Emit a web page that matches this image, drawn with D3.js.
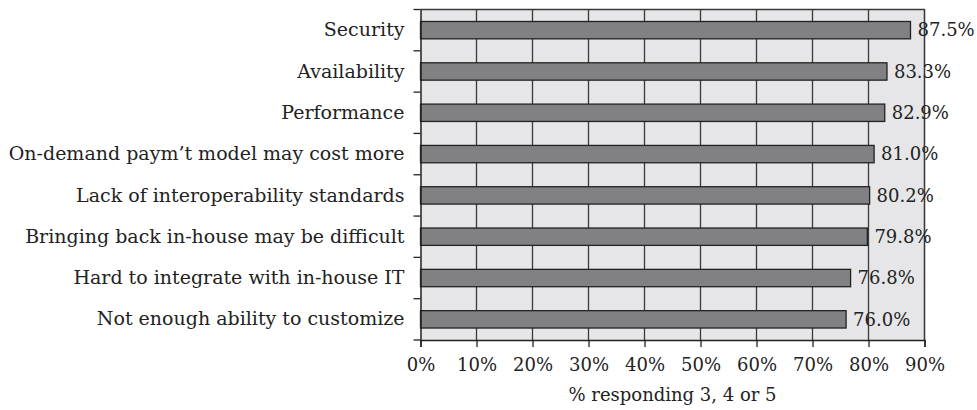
<!DOCTYPE html>
<html><head><meta charset="utf-8">
<script src="https://cdn.jsdelivr.net/npm/d3@7"></script>
<style>
body{margin:0;background:#fff;}
text{font-family:"DejaVu Serif",serif;fill:#222;}
</style></head>
<body><svg id="c" width="977" height="410"></svg>
<script>
const categories = ["Security","Availability","Performance","On-demand paym\u2019t model may cost more","Lack of interoperability standards","Bringing back in-house may be difficult","Hard to integrate with in-house IT","Not enough ability to customize"];
const values = [87.5,83.3,82.9,81.0,80.2,79.8,76.8,76.0];
const valueLabels = ["87.5%","83.3%","82.9%","81.0%","80.2%","79.8%","76.8%","76.0%"];
const xTicks = [0,10,20,30,40,50,60,70,80,90];
const xTitle = "% responding 3, 4 or 5";

const svg = d3.select("#c");
const m = {l:420.5, r:924.5, t:9.5, b:340};
const fs = 18;
const x = d3.scaleLinear().domain([0,90]).range([m.l,m.r]);
const y = d3.scaleBand().domain(categories).range([m.t,m.b]).paddingInner(0.58).paddingOuter(0.29);

svg.append("rect").attr("x",m.l).attr("y",m.t).attr("width",m.r-m.l).attr("height",m.b-m.t).attr("fill","#e6e6e8");
// gridlines
svg.append("g").selectAll("line").data(xTicks.slice(1)).join("line")
  .attr("x1",d=>x(d)).attr("x2",d=>x(d)).attr("y1",m.t).attr("y2",m.b)
  .attr("stroke","#3a3a3a").attr("stroke-width",1.3);
// bars
svg.append("g").selectAll("rect").data(values).join("rect")
  .attr("x",x(0)).attr("y",(d,i)=>y(categories[i]))
  .attr("width",d=>x(d)-x(0)).attr("height",y.bandwidth())
  .attr("fill","#818184").attr("stroke","#222").attr("stroke-width",1.3);
// border top/right
svg.append("path").attr("d",`M${m.l},${m.t}H${m.r}V${m.b}`).attr("fill","none").attr("stroke","#3a3a3a").attr("stroke-width",1.3);
// value labels
svg.append("g").selectAll("text").data(values).join("text")
  .attr("x",d=>x(d)+7).attr("y",(d,i)=>y(categories[i])+y.bandwidth()/2)
  .attr("dy","0.35em").attr("font-size",fs).text((d,i)=>valueLabels[i]);
// x axis
const xa = svg.append("g").attr("transform",`translate(0,${m.b})`)
  .call(d3.axisBottom(x).tickValues(xTicks).tickFormat(d=>d+"%").tickSize(7).tickPadding(11));
xa.selectAll("text").attr("font-size",fs).attr("font-family","DejaVu Serif");
xa.select(".domain").attr("stroke","#222").attr("stroke-width",1.5);
xa.selectAll(".tick line").attr("stroke","#222").attr("stroke-width",1.3);
// y axis
const ya = svg.append("g").attr("transform",`translate(${m.l},0)`)
  .call(d3.axisLeft(y).tickSize(0).tickPadding(16));
ya.selectAll("text").attr("font-size",19).attr("font-family","DejaVu Serif");
ya.select(".domain").attr("stroke","#222").attr("stroke-width",1.5);
// boundary ticks on y axis
const bounds = categories.map(c=>y(c)-y.step()*y.paddingInner()/2).concat([m.b]);
svg.append("g").selectAll("line").data(bounds).join("line")
  .attr("x1",m.l-7).attr("x2",m.l).attr("y1",d=>d).attr("y2",d=>d)
  .attr("stroke","#222").attr("stroke-width",1.3);
// title
svg.append("text").attr("x",(m.l+m.r)/2).attr("y",401).attr("text-anchor","middle").attr("font-size",fs).text(xTitle);
</script></body></html>
